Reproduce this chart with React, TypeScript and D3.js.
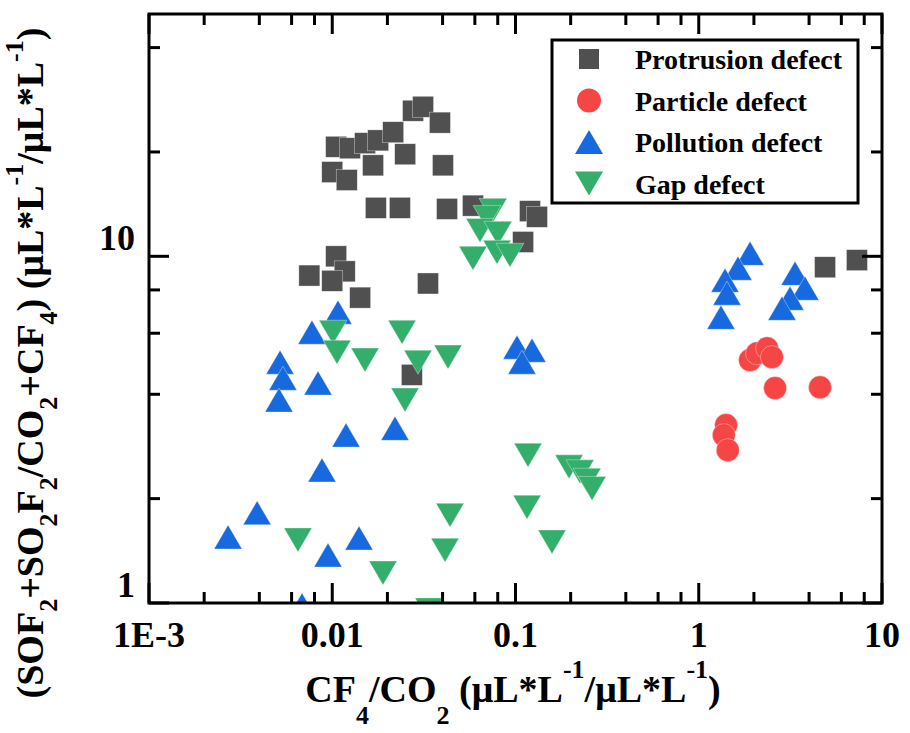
import * as d3 from 'd3';

// CF4/CO2 vs (SOF2+SO2F2)/(CO2+CF4), four defect types
const xTickValues = [0.001, 0.01, 0.1, 1, 10];
const xTickLabels = ['1E-3', '0.01', '0.1', '1', '10'];
const yTickValues = [1, 10];
const yTickLabels = ['1', '10'];
const minorSteps = [2, 4, 6, 8];

const protrusion: [number, number][] = [
  [0.0105, 20.7], [0.0125, 20.5], [0.0151, 21.2], [0.0167, 18.3], [0.0178, 21.6],
  [0.0215, 22.8], [0.0276, 26.3], [0.0313, 27.0], [0.0387, 24.3], [0.025, 19.7],
  [0.01, 17.5], [0.012, 16.6], [0.0402, 18.3], [0.0173, 13.8], [0.0234, 13.8],
  [0.0423, 13.7], [0.0586, 14.0], [0.12, 13.5], [0.131, 13.0], [0.11, 11.0],
  [0.0105, 10.0], [0.0075, 8.8], [0.0117, 9.05], [0.01, 8.5], [0.0142, 7.6],
  [0.0333, 8.35], [0.0272, 4.55], [4.89, 9.3], [7.3, 9.75],
];

const particle: [number, number][] = [
  [1.905, 5.02], [2.08, 5.25], [2.36, 5.43], [2.51, 5.12], [2.61, 4.17],
  [4.59, 4.19], [1.41, 3.26], [1.37, 3.05], [1.44, 2.76],
];

const pollution: [number, number][] = [
  [0.01075, 6.9], [0.00775, 6.04], [0.00519, 4.95], [0.00538, 4.45], [0.00512, 3.85],
  [0.00836, 4.31], [0.01189, 3.05], [0.00879, 2.42], [0.022, 3.19], [0.00389, 1.82],
  [0.0027, 1.55], [0.00948, 1.375], [0.014, 1.54], [0.00684, 0.987],
  [0.1019, 5.47], [0.123, 5.36], [0.1085, 4.95],
  [1.905, 10.2], [1.638, 9.24], [1.391, 8.53], [1.426, 7.83], [1.322, 6.67],
  [3.352, 8.93], [3.8, 8.09], [3.148, 7.57], [2.847, 7.08],
];

const gap: [number, number][] = [
  [0.01009, 6.04], [0.01061, 5.29], [0.01509, 5.02], [0.0065, 1.52], [0.01892, 1.22],
  [0.02403, 6.04], [0.02937, 4.95], [0.04282, 5.12], [0.02495, 3.85], [0.117, 2.67],
  [0.1959, 2.47], [0.2249, 2.39], [0.2456, 2.26], [0.2616, 2.14], [0.1156, 1.89],
  [0.04391, 1.79], [0.04124, 1.42], [0.1582, 1.5], [0.03373, 0.955],
  [0.0754, 13.57], [0.0699, 12.95], [0.064, 11.88], [0.0802, 11.65], [0.0586, 9.87],
  [0.0793, 10.27], [0.0933, 10.07],
];

const legendItems = ['Protrusion defect', 'Particle defect', 'Pollution defect', 'Gap defect'];

const GRAY = '#505050';
const RED = '#F54545';
const BLUE = '#1769E0';
const GREEN = '#33AE6B';
const FONT = '"Liberation Serif", "Times New Roman", serif';

const left = 149;
const right = 882;
const top = 14;
const bottom = 603;

const x = d3.scaleLog().domain([0.001, 10]).range([left, right]);
const y = d3.scaleLog().domain([1, 50]).range([bottom, top]);

const triUp = (cx: number, cy: number, w = 28, h = 24) =>
  `M${cx},${cy - h / 2}L${cx + w / 2},${cy + h / 2}L${cx - w / 2},${cy + h / 2}Z`;
const triDown = (cx: number, cy: number, w = 28, h = 24) =>
  `M${cx},${cy + h / 2}L${cx + w / 2},${cy - h / 2}L${cx - w / 2},${cy - h / 2}Z`;

const App = () => {
  const xMinor = xTickValues.slice(0, -1).flatMap((d) => minorSteps.map((m) => d * m));
  const yMinor = yTickValues.flatMap((d) => minorSteps.map((m) => d * m)).filter((v) => v < 50);

  const tickStroke = { stroke: '#000', strokeWidth: 3 };
  const sub = { fontSize: 26 };

  return (
    <svg
      width={910}
      height={733}
      style={{ position: 'absolute', left: 0, top: 0, background: '#fff' }}
      fontFamily={FONT}
      fontWeight="bold"
    >
      <defs>
        <clipPath id="plot-clip">
          <rect x={left} y={top} width={right - left} height={bottom - top} />
        </clipPath>
      </defs>

      {/* markers */}
      <g clipPath="url(#plot-clip)">
        {protrusion.map(([a, b], i) => (
          <rect key={`p${i}`} x={x(a) - 10.5} y={y(b) - 10.5} width={21} height={21}
            fill={GRAY} stroke="#fff" strokeWidth={0.6} strokeOpacity={0.6} />
        ))}
        {particle.map(([a, b], i) => (
          <circle key={`c${i}`} cx={x(a)} cy={y(b)} r={11.5} fill={RED}
            stroke="#fff" strokeWidth={0.6} strokeOpacity={0.6} />
        ))}
        {pollution.map(([a, b], i) => (
          <path key={`u${i}`} d={triUp(x(a), y(b))} fill={BLUE}
            stroke="#fff" strokeWidth={0.6} strokeOpacity={0.6} />
        ))}
        {gap.map(([a, b], i) => (
          <path key={`d${i}`} d={triDown(x(a), y(b))} fill={GREEN}
            stroke="#fff" strokeWidth={0.6} strokeOpacity={0.6} />
        ))}
      </g>

      {/* ticks, inward on all four sides */}
      {xTickValues.map((v) => (
        <g key={`xt${v}`} {...tickStroke}>
          <line x1={x(v)} x2={x(v)} y1={bottom} y2={bottom - 20} />
          <line x1={x(v)} x2={x(v)} y1={top} y2={top + 20} />
        </g>
      ))}
      {xMinor.map((v) => (
        <g key={`xm${v}`} {...tickStroke}>
          <line x1={x(v)} x2={x(v)} y1={bottom} y2={bottom - 11} />
          <line x1={x(v)} x2={x(v)} y1={top} y2={top + 11} />
        </g>
      ))}
      {yTickValues.map((v) => (
        <g key={`yt${v}`} {...tickStroke}>
          <line x1={left} x2={left + 20} y1={y(v)} y2={y(v)} />
          <line x1={right} x2={right - 20} y1={y(v)} y2={y(v)} />
        </g>
      ))}
      {yMinor.map((v) => (
        <g key={`ym${v}`} {...tickStroke}>
          <line x1={left} x2={left + 11} y1={y(v)} y2={y(v)} />
          <line x1={right} x2={right - 11} y1={y(v)} y2={y(v)} />
        </g>
      ))}

      <rect x={left} y={top} width={right - left} height={bottom - top}
        fill="none" stroke="#000" strokeWidth={3} />

      {/* tick labels */}
      {xTickValues.map((v, i) => (
        <text key={`xl${v}`} x={x(v)} y={647} textAnchor="middle" fontSize={36}>
          {xTickLabels[i]}
        </text>
      ))}
      {yTickValues.map((v, i) => (
        <text key={`yl${v}`} x={135} y={y(v) - 6} textAnchor="end" fontSize={36}>
          {yTickLabels[i]}
        </text>
      ))}

      {/* axis titles */}
      <text x={513} y={702} textAnchor="middle" fontSize={38}>
        CF<tspan dy={22} {...sub}>4</tspan>
        <tspan dy={-22}>/CO</tspan><tspan dy={22} {...sub}>2</tspan>
        <tspan dy={-22}> (μL*L</tspan><tspan dy={-24} {...sub}>-1</tspan>
        <tspan dy={24}>/μL*L</tspan><tspan dy={-24} {...sub}>-1</tspan>
        <tspan dy={24}>)</tspan>
      </text>
      <text transform="translate(43,363) rotate(-90)" textAnchor="middle" fontSize={38}>
        (SOF<tspan dy={14} {...sub}>2</tspan>
        <tspan dy={-14}>+SO</tspan><tspan dy={14} {...sub}>2</tspan>
        <tspan dy={-14}>F</tspan><tspan dy={14} {...sub}>2</tspan>
        <tspan dy={-14}>/CO</tspan><tspan dy={14} {...sub}>2</tspan>
        <tspan dy={-14}>+CF</tspan><tspan dy={14} {...sub}>4</tspan>
        <tspan dy={-14}>) (μL*L</tspan><tspan dy={-20} {...sub}>-1</tspan>
        <tspan dy={20}>/μL*L</tspan><tspan dy={-20} {...sub}>-1</tspan>
        <tspan dy={20}>)</tspan>
      </text>

      {/* legend */}
      <rect x={552} y={40} width={306} height={163} fill="#fff" stroke="#000" strokeWidth={3} />
      {legendItems.map((label, i) => {
        const cy = 59 + i * 41.5;
        return (
          <g key={label}>
            {i === 0 && <rect x={579} y={cy - 10} width={20} height={20} fill={GRAY} />}
            {i === 1 && <circle cx={589} cy={cy} r={12} fill={RED} />}
            {i === 2 && <path d={triUp(589, cy)} fill={BLUE} />}
            {i === 3 && <path d={triDown(589, cy)} fill={GREEN} />}
            <text x={635} y={cy + 10} fontSize={28}>{label}</text>
          </g>
        );
      })}
    </svg>
  );
};

export default App;
